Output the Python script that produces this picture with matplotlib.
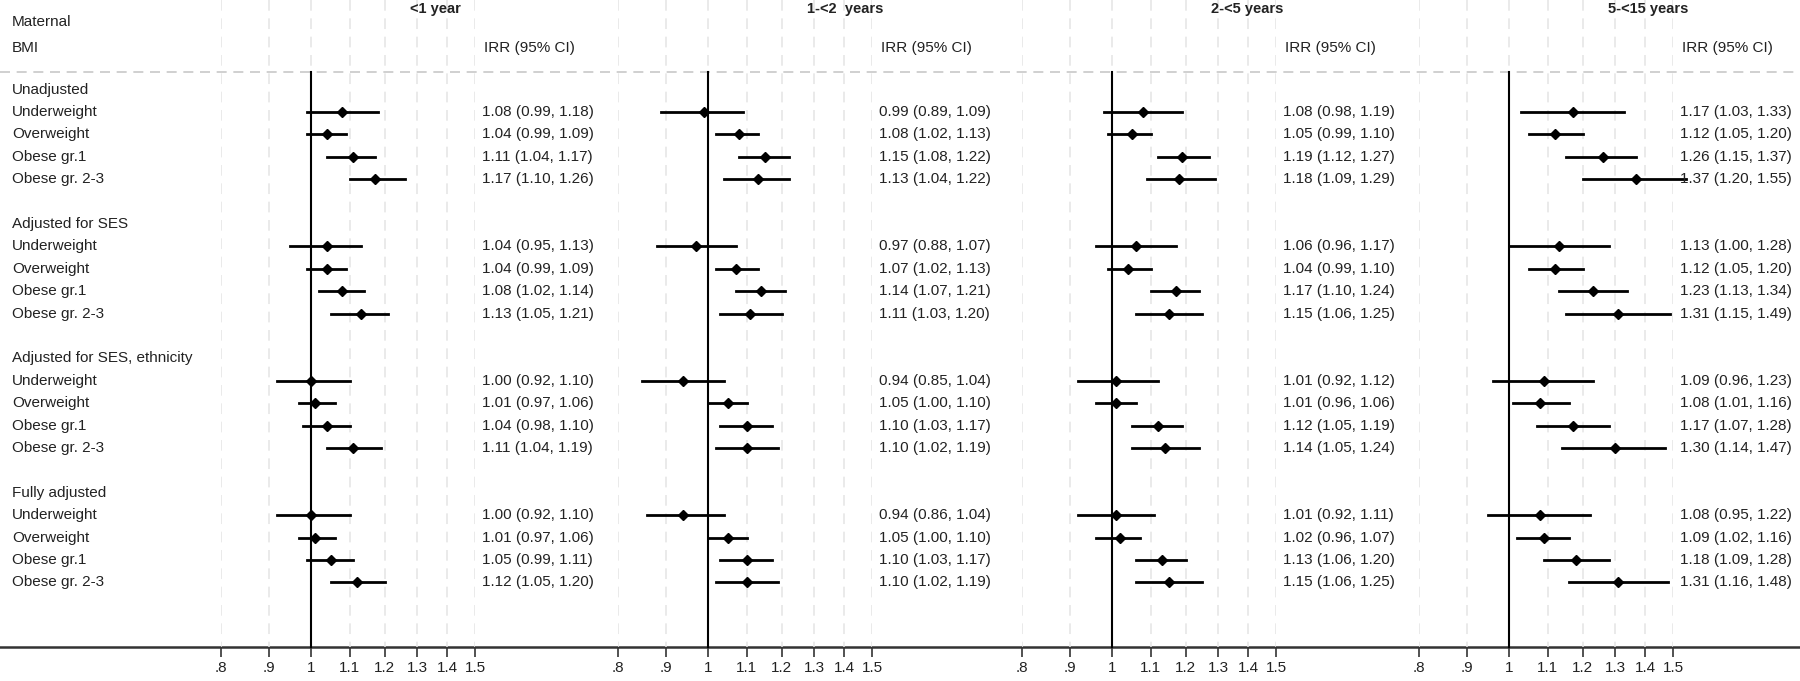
import matplotlib
matplotlib.use("Agg")
import matplotlib.pyplot as plt
from matplotlib.transforms import blended_transform_factory

plt.rcParams['font.family'] = ['Liberation Sans', 'DejaVu Sans']

periods = ["<1 year", "1-<2  years", "2-<5 years", "5-<15 years"]
groups = ["Unadjusted", "Adjusted for SES", "Adjusted for SES, ethnicity", "Fully adjusted"]
categories = ["Underweight", "Overweight", "Obese gr.1", "Obese gr. 2-3"]
ticks = [0.8, 0.9, 1.0, 1.1, 1.2, 1.3, 1.4, 1.5]
tick_labels = [".8", ".9", "1", "1.1", "1.2", "1.3", "1.4", "1.5"]

irr_lt1 = [1.08, 1.04, 1.11, 1.17, 1.04, 1.04, 1.08, 1.13, 1.00, 1.01, 1.04, 1.11, 1.00, 1.01, 1.05, 1.12]
lo_lt1 = [0.99, 0.99, 1.04, 1.10, 0.95, 0.99, 1.02, 1.05, 0.92, 0.97, 0.98, 1.04, 0.92, 0.97, 0.99, 1.05]
hi_lt1 = [1.18, 1.09, 1.17, 1.26, 1.13, 1.09, 1.14, 1.21, 1.10, 1.06, 1.10, 1.19, 1.10, 1.06, 1.11, 1.20]

irr_1_2 = [0.99, 1.08, 1.15, 1.13, 0.97, 1.07, 1.14, 1.11, 0.94, 1.05, 1.10, 1.10, 0.94, 1.05, 1.10, 1.10]
lo_1_2 = [0.89, 1.02, 1.08, 1.04, 0.88, 1.02, 1.07, 1.03, 0.85, 1.00, 1.03, 1.02, 0.86, 1.00, 1.03, 1.02]
hi_1_2 = [1.09, 1.13, 1.22, 1.22, 1.07, 1.13, 1.21, 1.20, 1.04, 1.10, 1.17, 1.19, 1.04, 1.10, 1.17, 1.19]

irr_2_5 = [1.08, 1.05, 1.19, 1.18, 1.06, 1.04, 1.17, 1.15, 1.01, 1.01, 1.12, 1.14, 1.01, 1.02, 1.13, 1.15]
lo_2_5 = [0.98, 0.99, 1.12, 1.09, 0.96, 0.99, 1.10, 1.06, 0.92, 0.96, 1.05, 1.05, 0.92, 0.96, 1.06, 1.06]
hi_2_5 = [1.19, 1.10, 1.27, 1.29, 1.17, 1.10, 1.24, 1.25, 1.12, 1.06, 1.19, 1.24, 1.11, 1.07, 1.20, 1.25]

irr_5_15 = [1.17, 1.12, 1.26, 1.37, 1.13, 1.12, 1.23, 1.31, 1.09, 1.08, 1.17, 1.30, 1.08, 1.09, 1.18, 1.31]
lo_5_15 = [1.03, 1.05, 1.15, 1.20, 1.00, 1.05, 1.13, 1.15, 0.96, 1.01, 1.07, 1.14, 0.95, 1.02, 1.09, 1.16]
hi_5_15 = [1.33, 1.20, 1.37, 1.55, 1.28, 1.20, 1.34, 1.49, 1.23, 1.16, 1.28, 1.47, 1.22, 1.16, 1.28, 1.48]

series = [(irr_lt1, lo_lt1, hi_lt1), (irr_1_2, lo_1_2, hi_1_2),
          (irr_2_5, lo_2_5, hi_2_5), (irr_5_15, lo_5_15, hi_5_15)]

W, H = 1800, 681
fig = plt.figure(figsize=(W / 100, H / 100), dpi=100)

Y_TOP, Y_BOT = -4.0, 26.4
Y_AXIS = 24.9
Y_DASH = -0.8
rows = []
group_rows = []
for g in range(4):
    base = g * 6
    group_rows.append(base)
    rows.extend([base + 1 + i for i in range(4)])

one_px = [311, 708, 1112, 1509]
left_px, right_px = 90, 164

bg = fig.add_axes([0, 0, 1, 1])
bg.set_xlim(0, W)
bg.set_ylim(Y_BOT, Y_TOP)
bg.axis('off')
bg.axhline(Y_DASH, color='#c8c8c8', lw=1.2, ls=(0, (6, 4)))
bg.axhline(Y_AXIS, color='#333333', lw=1.8)
bg.text(12, -3.0, "Maternal", fontsize=11, va='center', ha='left', color='#222222')
bg.text(12, -1.85, "BMI", fontsize=11, va='center', ha='left', color='#222222')
for g, name in enumerate(groups):
    bg.text(12, group_rows[g], name, fontsize=11, va='center', ha='left', color='#222222')
for i, r in enumerate(rows):
    bg.text(12, r, categories[i % 4], fontsize=11, va='center', ha='left', color='#222222')

for k, (est, lo, hi) in enumerate(series):
    x1 = one_px[k]
    ax = fig.add_axes([(x1 - left_px) / W, 0, (left_px + right_px) / W, 1])
    ax.set_xscale('log')
    ax.set_xlim(0.8, 1.5)
    ax.set_ylim(Y_BOT, Y_TOP)
    ax.patch.set_alpha(0)
    for s in ['top', 'right', 'left']:
        ax.spines[s].set_visible(False)
    ax.spines['bottom'].set_position(('data', Y_AXIS))
    ax.spines['bottom'].set_visible(False)
    ax.set_yticks([])
    ax.set_xticks(ticks)
    ax.set_xticks([], minor=True)
    ax.set_xticklabels(tick_labels, fontsize=11, color='#222222')
    ax.tick_params(axis='x', direction='out', length=7, width=1.2, pad=3, color='#333333')
    for t in ticks:
        ax.plot([t, t], [Y_TOP, Y_AXIS], color='#e4e4e4', lw=1.1, ls=(0, (7, 5)), zorder=0)
    ax.plot([1, 1], [Y_DASH, Y_AXIS], color='black', lw=1.5, zorder=2)
    for i, r in enumerate(rows):
        ax.plot([lo[i], hi[i]], [r, r], color='black', lw=2, clip_on=False, zorder=3)
        ax.plot(est[i], r, marker='D', color='black', ms=5.5, clip_on=False, zorder=4)
    tr = blended_transform_factory(fig.transFigure, ax.transData)
    ax.text((x1 + 99) / W, -3.6, periods[k], transform=tr, fontsize=10.5,
            fontweight='bold', va='center', ha='left', color='#222222')
    ax.text((x1 + 173) / W, -1.85, "IRR (95% CI)", transform=tr, fontsize=11,
            va='center', ha='left', color='#222222')
    for i, r in enumerate(rows):
        ax.text((x1 + 171) / W, r, f"{est[i]:.2f} ({lo[i]:.2f}, {hi[i]:.2f})", transform=tr,
                fontsize=11, va='center', ha='left', color='#222222')

fig.savefig("out.png", dpi=100)
